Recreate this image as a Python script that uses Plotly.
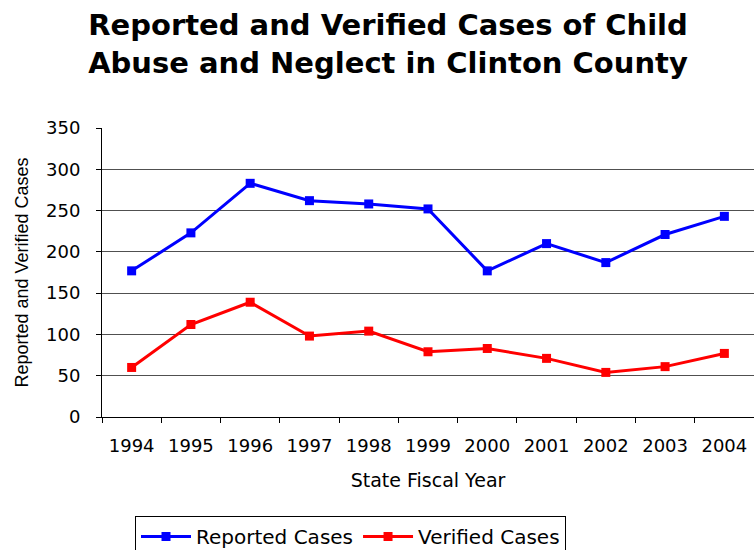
import plotly.graph_objects as go

years = ["1994", "1995", "1996", "1997", "1998", "1999", "2000", "2001", "2002", "2003", "2004"]
reported = [177, 223, 283, 262, 258, 252, 177, 210, 187, 221, 243]
verified = [60, 112, 139, 98, 104, 79, 83, 71, 54, 61, 77]
y_ticks = [0, 50, 100, 150, 200, 250, 300, 350]

TICK_FONT = dict(family="DejaVu Sans", size=18, color="black")

fig = go.Figure()
fig.add_trace(go.Scatter(
    x=years, y=reported, name="Reported Cases", mode="lines+markers",
    line=dict(color="#0000FF", width=3),
    marker=dict(symbol="square", size=9, color="#0000FF"),
))
fig.add_trace(go.Scatter(
    x=years, y=verified, name="Verified Cases", mode="lines+markers",
    line=dict(color="#FF0000", width=3),
    marker=dict(symbol="square", size=9, color="#FF0000"),
))

fig.update_layout(
    width=754, height=550,
    margin=dict(l=102, r=0, t=128, b=133),
    paper_bgcolor="white", plot_bgcolor="white",
    title=dict(
        text="Reported and Verified Cases of Child<br>Abuse and Neglect in Clinton County",
        font=dict(family="DejaVu Sans", size=29, color="black", weight="bold"),
        x=388 / 754, xanchor="center", xref="container",
        y=1 - 35 / 550, yanchor="middle", yref="container",
    ),
    showlegend=True,
    legend=dict(
        orientation="h",
        xref="container", yref="container",
        x=135 / 754, xanchor="left",
        y=1 - 516 / 550, yanchor="top",
        bordercolor="black", borderwidth=1,
        font=dict(family="DejaVu Sans", size=20, color="black"),
        itemwidth=50,
    ),
)

fig.update_xaxes(
    type="category", range=[-0.5, 10.5],
    showline=True, linecolor="black", linewidth=1,
    ticks="outside", tickson="boundaries", ticklen=5, tickcolor="black",
    tickfont=TICK_FONT, ticklabelstandoff=12,
    showgrid=False,
    title=dict(text="State Fiscal Year", font=dict(family="DejaVu Sans", size=19, color="black"), standoff=19),
)
fig.update_yaxes(
    range=[0, 350], tickvals=y_ticks,
    showline=True, linecolor="black", linewidth=1,
    ticks="outside", ticklen=5, tickcolor="black",
    tickfont=TICK_FONT, ticklabelstandoff=12,
    showgrid=True, gridcolor="#505050", gridwidth=1,
    zeroline=False,
    title=dict(text="Reported and Verified Cases", font=dict(family="Liberation Sans, Arial", size=18, color="black"), standoff=12),
)

fig.write_html("out.html")
